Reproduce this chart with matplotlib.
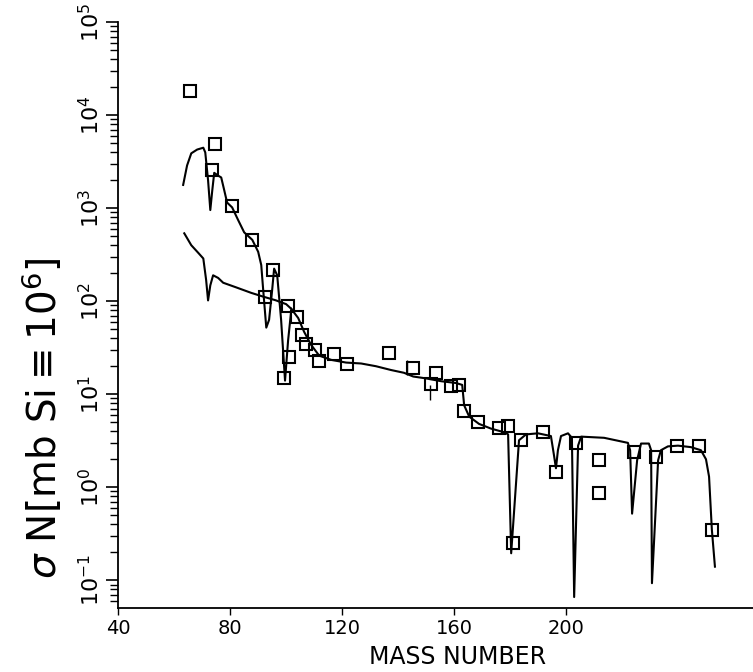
import numpy as np
import matplotlib.pyplot as plt
from matplotlib.ticker import LogLocator, NullFormatter

# curva superior (parte esquerda)
mass_a = [63.2, 64.6, 66.1, 68.2, 70.4, 71.1, 72.1, 72.9, 73.6, 74.3, 75.7, 76.8,
          77.9, 78.9, 80.7, 82.9, 85.0, 87.9, 90.0, 91.1, 91.8, 92.9, 93.9, 95.0,
          95.7, 96.8, 98.2, 99.6, 100.7, 101.8]
sigma_a = [1780, 2880, 3890, 4270, 4470, 3980, 2000, 955, 1550, 2400, 2240, 2140,
           1550, 1150, 1020, 740, 550, 457, 340, 245, 132, 52, 63, 132,
           224, 190, 63, 14, 38, 79]

# curva inferior (parte esquerda)
mass_b = [63.6, 66.1, 68.6, 70.4, 71.4, 72.1, 72.9, 73.9, 75.7, 77.5, 82.1, 87.5,
          91.8, 96.4, 100.0, 101.8]
sigma_b = [537, 400, 331, 288, 170, 102, 148, 190, 178, 158, 141, 123,
           112, 102, 93, 83]

# curva comum (A > 100)
mass_c = [101.8, 104.3, 106.4, 108.9, 111.8, 116.1, 121.4, 126.8, 132.1, 137.5,
          142.1, 145.4, 150.0, 155.4, 160.7, 162.9, 163.6, 165.4, 168.9, 173.2,
          177.9, 179.3, 180.4, 183.2, 185.7, 190.0, 194.6, 195.7, 196.4, 197.1,
          198.2, 200.7, 202.1, 202.9, 204.3, 205.4, 213.6, 222.1, 222.9, 223.6,
          225.4, 226.8, 229.6, 230.4, 230.7, 232.9, 233.9, 236.4, 240.0, 244.6,
          248.2, 250.0, 251.1, 252.1, 253.2]
sigma_c = [83, 66, 47, 34, 26, 23.4, 21.9, 21.4, 20, 18.2,
           17, 15.5, 14.8, 13.8, 13.2, 12.6, 7.6, 5.75, 4.8, 4.27,
           3.9, 3.7, 0.195, 3.2, 3.7, 3.8, 3.55, 2.2, 1.6, 2.5,
           3.55, 3.8, 3.4, 0.066, 2.8, 3.5, 3.4, 3.0, 2.5, 0.52,
           1.95, 2.95, 2.95, 2.5, 0.093, 1.95, 2.5, 2.75, 2.8, 2.7,
           2.5, 2.0, 1.3, 0.35, 0.14]

# pontos experimentais (quadrados)
sq_mass = [65.7, 74.6, 73.6, 80.7, 87.9, 95.4, 92.5, 100.7, 103.9, 105.7, 107.1,
           110.4, 111.8, 117.1, 121.8, 101.1, 99.3, 136.8, 145.4, 151.8, 153.6,
           158.9, 161.8, 163.6, 168.6, 176.1, 179.3, 183.9, 191.8, 196.4, 181.1,
           203.6, 211.8, 211.8, 224.3, 232.1, 239.6, 247.5, 252.1]
sq_sigma = [18200, 4900, 2570, 1050, 457, 214, 110, 89, 68, 43, 35,
            30, 23, 27, 21, 25, 15, 28, 19, 13, 17,
            12.3, 12.6, 6.6, 5.0, 4.3, 4.5, 3.2, 3.9, 1.45, 0.25,
            3.0, 1.95, 0.87, 2.4, 2.1, 2.75, 2.8, 0.35]

# barras de erro visiveis
err_mass = [143.2, 151.4]
err_lo = [16.2, 8.7]
err_hi = [23.4, 12.6]

x_ticks = [40, 80, 120, 160, 200]
y_ticks = [1e-1, 1e0, 1e1, 1e2, 1e3, 1e4, 1e5]
y_labels = ['$10^{-1}$', '$10^{0}$', '$10^{1}$', '$10^{2}$', '$10^{3}$', '$10^{4}$', '$10^{5}$']

fig = plt.figure(figsize=(7.53, 6.72), dpi=100)
ax = fig.add_axes([0.157, 0.095, 0.843, 0.872])

ax.plot(mass_a, sigma_a, c='k', lw=1.5)
ax.plot(mass_b, sigma_b, c='k', lw=1.5)
ax.plot(mass_c, sigma_c, c='k', lw=1.5)
ax.plot(sq_mass, sq_sigma, ls='none', marker='s', ms=8.5, mfc='none', mec='k', mew=1.5)
ax.vlines(err_mass, err_lo, err_hi, colors='k', lw=1)

ax.set_yscale('log')
ax.set_ylim(10**-1.3, 1e5)
ax.set_xlim(40, 266.8)

ax.set_xticks(x_ticks)
ax.set_xticklabels([str(t) for t in x_ticks], fontsize=14)
ax.set_yticks(y_ticks)
ax.set_yticklabels(y_labels, fontsize=16, rotation=90, va='center')
ax.yaxis.set_minor_locator(LogLocator(base=10, subs=np.arange(2, 10)))
ax.yaxis.set_minor_formatter(NullFormatter())
ax.tick_params(axis='y', which='major', direction='out', length=9, width=1.2, pad=2)
ax.tick_params(axis='y', which='minor', direction='out', length=6, width=1)
ax.tick_params(axis='x', direction='out', length=5, width=1, pad=3)

for s in ['top', 'right']:
    ax.spines[s].set_visible(False)
for s in ['left', 'bottom']:
    ax.spines[s].set_linewidth(1.3)

fig.text(0.608, 0.004, 'MASS NUMBER', fontsize=17, ha='center', va='bottom')
fig.text(0.057, 0.378, r'$\sigma$ N[mb Si$\equiv$10$^6$]', fontsize=28,
         rotation=90, ha='center', va='center')

fig.savefig('out.png', dpi=100)
